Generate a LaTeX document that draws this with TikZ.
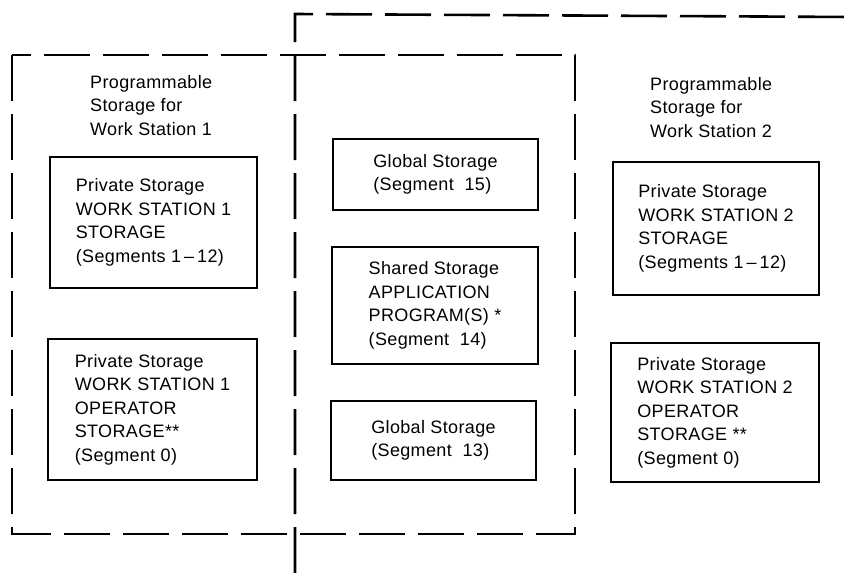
\documentclass[tikz,border=0pt]{standalone}
\usepackage{fontspec}
\setmainfont{Liberation Sans}[LetterSpace=2]
\usepackage{tikz}
\usetikzlibrary{positioning}

\begin{document}
\begin{tikzpicture}[x=1pt, y=-1pt,
    storebox/.style={draw, line width=2.6pt, align=left, inner sep=0pt,
      font=\fontsize{18}{23.5}\selectfont},
    regiontitle/.style={align=left, inner sep=0pt, anchor=north west,
      font=\fontsize{18}{23.5}\selectfont},
    region/.style={line width=2.6pt, dash pattern=on 46pt off 13pt}]
  \useasboundingbox (0,0) rectangle (852,573);

  % Work Station 1 region
  \draw[region] (12,55) rectangle (575,534);
  \node[regiontitle] (title1) at (90,75) {Programmable\\Storage for\\Work Station 1};

  % Work Station 2 region (runs off the page)
  \draw[region] (295,573) -- (295,14) -- (852,17);
  \node[regiontitle] (title2) at (650,77) {Programmable\\Storage for\\Work Station 2};

  % Private storage, work station 1
  \node[storebox, minimum width=207pt, minimum height=131pt] (ws1store) at (153.5,222.5)
    {Private Storage\\WORK STATION 1\\STORAGE\\(Segments 1\,--\,12)};
  \node[storebox, minimum width=209pt, minimum height=141pt] (ws1oper) at (152.5,409.5)
    {Private Storage\\WORK STATION 1\\OPERATOR\\STORAGE**\\(Segment 0)};

  % Global and shared storage
  \node[storebox, minimum width=205pt, minimum height=71pt] (global15) at (435.5,174.5)
    {Global Storage\\(Segment\ \ 15)};
  \node[storebox, minimum width=206pt, minimum height=117pt] (shared) at (435,305.5)
    {Shared Storage\\APPLICATION\\PROGRAM(S) *\\(Segment\ \ 14)};
  \node[storebox, minimum width=205pt, minimum height=79pt] (global13) at (433.5,440.5)
    {Global Storage\\(Segment\ \ 13)};

  % Private storage, work station 2
  \node[storebox, minimum width=206pt, minimum height=133pt] (ws2store) at (716,228.5)
    {Private Storage\\WORK STATION 2\\STORAGE\\(Segments 1\,--\,12)};
  \node[storebox, minimum width=208pt, minimum height=139pt] (ws2oper) at (715,412.5)
    {Private Storage\\WORK STATION 2\\OPERATOR\\STORAGE **\\(Segment 0)};
\end{tikzpicture}
\end{document}
